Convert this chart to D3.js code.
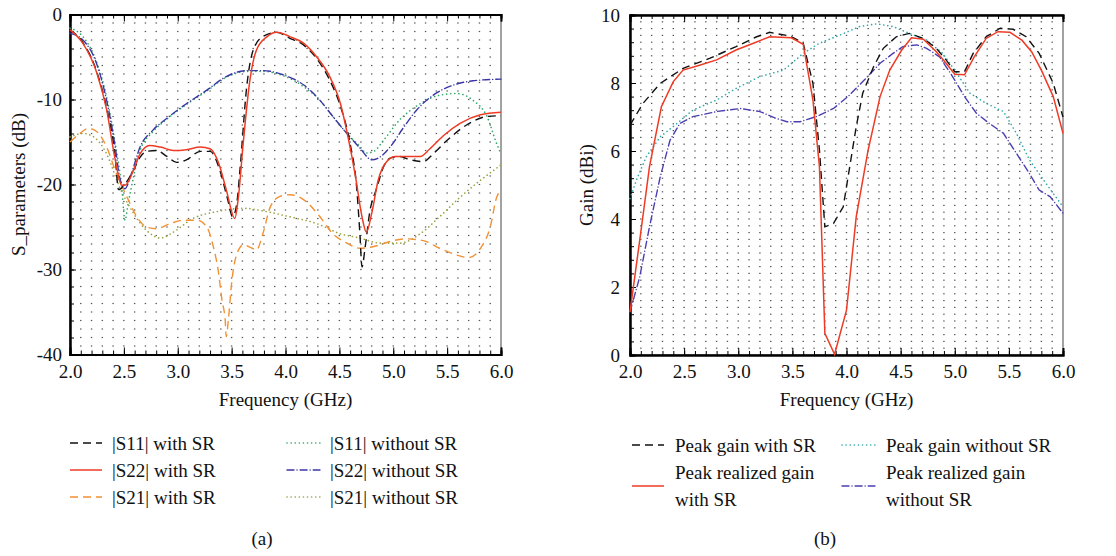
<!DOCTYPE html>
<meta charset="utf-8">
<style>
body { margin: 0; background: #fff; }
svg text { font-family: "Liberation Serif", "DejaVu Serif", "Times New Roman", serif !important; font-size: 19px !important; fill: #111; }
.axis path, .axis line { stroke: #000; }
</style>
<body>
<svg id="chart" width="1116" height="556" style="font-family: 'Liberation Serif', 'DejaVu Serif', serif;"></svg>
<script src="https://d3js.org/d3.v7.min.js"></script>
<script>

// ---- data (a): S-parameters, dB vs GHz ----
var s11With_f = [2.0,2.12,2.25,2.34,2.42,2.45,2.52,2.59,2.65,2.71,2.80,2.90,2.99,3.08,3.21,3.30,3.39,3.46,3.51,3.55,3.58,3.64,3.70,3.79,3.92,4.04,4.17,4.29,4.41,4.51,4.60,4.66,4.69,4.71,4.74,4.78,4.85,4.91,4.97,5.06,5.16,5.28,5.37,5.50,5.68,5.87,6.0];
var s11With_v = [-1.8,-3.3,-6.8,-11.0,-16.8,-20.6,-19.8,-18.3,-16.8,-16.1,-16.0,-16.7,-17.4,-17.1,-16.1,-16.1,-18.3,-21.6,-23.8,-22.0,-17.9,-8.5,-4.2,-2.6,-2.1,-2.8,-3.6,-5.2,-7.7,-10.8,-15.2,-20.3,-25.7,-29.7,-27.3,-23.4,-20.3,-17.9,-16.9,-16.7,-17.1,-17.3,-16.4,-14.8,-13.0,-12.0,-11.9];

var s22With_f = [2.0,2.12,2.25,2.34,2.42,2.48,2.51,2.59,2.65,2.74,2.84,2.96,3.08,3.21,3.30,3.38,3.45,3.53,3.56,3.61,3.67,3.73,3.83,3.92,4.04,4.17,4.29,4.41,4.51,4.58,4.65,4.71,4.75,4.80,4.86,4.94,5.02,5.12,5.25,5.34,5.47,5.62,5.81,6.0];
var s22With_v = [-1.8,-3.4,-6.9,-11.2,-17.1,-20.1,-20.1,-18.3,-16.4,-15.4,-15.6,-16.0,-15.9,-15.6,-15.8,-17.5,-20.6,-24.0,-21.8,-14.8,-7.7,-4.2,-2.6,-2.1,-2.6,-3.4,-5.0,-7.3,-10.5,-14.4,-19.1,-23.8,-25.6,-23.4,-19.5,-17.3,-16.7,-16.7,-16.7,-15.8,-14.2,-12.8,-11.8,-11.5];

var s21With_f = [2.0,2.09,2.17,2.25,2.34,2.43,2.53,2.62,2.71,2.80,2.93,3.05,3.18,3.27,3.33,3.38,3.41,3.44,3.45,3.47,3.50,3.55,3.61,3.69,3.73,3.79,3.86,3.95,4.04,4.17,4.32,4.44,4.57,4.69,4.82,4.97,5.12,5.28,5.43,5.59,5.70,5.81,5.90,5.96,6.0];
var s21With_v = [-15.0,-14.0,-13.4,-13.8,-15.6,-18.7,-21.5,-23.8,-25.0,-25.2,-24.6,-24.2,-24.2,-25.0,-27.3,-30.5,-33.6,-35.9,-37.9,-35.9,-31.6,-28.1,-27.1,-27.5,-27.7,-25.8,-22.6,-21.4,-21.2,-21.8,-23.8,-25.8,-26.9,-27.5,-27.3,-26.7,-26.4,-26.6,-27.5,-28.3,-28.6,-27.5,-25.0,-21.5,-20.7];

var s11Without_f = [2.0,2.12,2.25,2.34,2.42,2.48,2.51,2.54,2.59,2.65,2.77,2.90,3.08,3.27,3.45,3.64,3.79,3.98,4.17,4.32,4.44,4.57,4.69,4.75,4.82,4.91,5.06,5.25,5.43,5.59,5.74,5.87,5.96,6.0];
var s11Without_v = [-1.6,-2.6,-5.7,-9.7,-15.2,-20.3,-24.2,-22.2,-19.1,-16.0,-13.8,-12.3,-10.6,-9.0,-7.4,-6.7,-6.7,-7.2,-8.5,-10.1,-12.0,-14.0,-15.5,-16.3,-16.1,-14.8,-12.4,-10.5,-9.5,-9.3,-10.1,-12.0,-15.2,-16.4];

var s22Without_f = [2.0,2.12,2.25,2.34,2.42,2.46,2.51,2.57,2.65,2.77,2.90,3.08,3.27,3.45,3.64,3.79,3.98,4.17,4.32,4.44,4.57,4.69,4.80,4.86,4.97,5.09,5.22,5.37,5.56,5.74,6.0];
var s22Without_v = [-2.2,-3.0,-5.9,-10.1,-15.6,-19.1,-20.5,-18.7,-15.6,-13.6,-12.2,-10.5,-8.9,-7.3,-6.6,-6.6,-7.1,-8.3,-10.1,-12.0,-14.0,-15.7,-17.1,-16.9,-15.6,-13.4,-11.2,-9.5,-8.3,-7.8,-7.6];

var s21Without_f = [2.0,2.12,2.22,2.34,2.46,2.59,2.71,2.84,2.96,3.14,3.36,3.61,3.83,4.04,4.29,4.51,4.69,4.88,5.06,5.25,5.43,5.62,5.81,6.0];
var s21Without_v = [-14.4,-14.0,-14.4,-16.4,-20.3,-23.4,-25.4,-26.3,-25.6,-24.0,-23.2,-22.8,-23.2,-23.8,-24.6,-25.8,-26.3,-26.9,-26.9,-25.8,-23.8,-21.5,-19.5,-17.7];

// ---- data (b): gain, dBi vs GHz ----
var gainWith_f = [2.0,2.12,2.28,2.49,2.74,2.98,3.17,3.29,3.48,3.60,3.69,3.75,3.80,3.88,3.97,4.03,4.09,4.15,4.25,4.34,4.46,4.58,4.71,4.83,4.92,5.0,5.09,5.17,5.29,5.42,5.54,5.66,5.78,5.91,6.0];
var gainWith_v = [6.76,7.4,7.99,8.43,8.73,9.07,9.36,9.49,9.38,9.17,7.99,6.03,3.77,3.87,4.36,5.54,6.72,7.7,8.48,9.02,9.36,9.46,9.31,9.02,8.68,8.33,8.33,8.87,9.36,9.61,9.58,9.36,8.87,7.99,7.0];

var realWith_f = [2.0,2.09,2.18,2.29,2.40,2.49,2.65,2.80,2.98,3.14,3.29,3.49,3.60,3.69,3.75,3.80,3.89,4.0,4.09,4.20,4.31,4.40,4.51,4.60,4.71,4.83,4.92,5.0,5.09,5.18,5.29,5.40,5.51,5.62,5.71,5.80,5.91,6.0];
var realWith_v = [1.27,3.38,5.54,7.3,8.04,8.38,8.53,8.68,8.97,9.17,9.36,9.33,9.14,7.5,5.54,0.64,0.02,1.32,4.07,6.03,7.6,8.38,8.97,9.33,9.29,8.92,8.58,8.26,8.24,8.77,9.31,9.51,9.49,9.26,8.92,8.38,7.6,6.52];

var gainWithout_f = [2.0,2.06,2.15,2.28,2.40,2.58,2.80,2.98,3.20,3.42,3.60,3.75,3.94,4.12,4.28,4.43,4.58,4.74,4.89,5.02,5.14,5.29,5.45,5.57,5.69,5.82,5.91,6.0];
var gainWithout_v = [4.6,5.15,5.83,6.42,6.72,7.2,7.5,7.84,8.19,8.38,8.87,9.17,9.41,9.66,9.74,9.66,9.46,9.26,8.87,8.28,7.7,7.4,7.16,6.52,5.74,5.15,4.75,4.36];

var realWithout_f = [2.0,2.09,2.18,2.28,2.37,2.46,2.58,2.80,3.02,3.20,3.35,3.45,3.57,3.72,3.88,4.03,4.18,4.31,4.43,4.52,4.65,4.74,4.86,4.98,5.09,5.20,5.32,5.45,5.57,5.69,5.78,5.88,6.0];
var realWithout_v = [1.27,2.3,3.77,5.25,6.32,6.81,7.01,7.16,7.25,7.16,6.96,6.86,6.86,7.01,7.25,7.65,8.14,8.58,8.87,9.07,9.12,9.02,8.77,8.19,7.6,7.11,6.81,6.52,5.93,5.34,4.85,4.66,4.17];

var freqTicks = [2.0,2.5,3.0,3.5,4.0,4.5,5.0,5.5,6.0];
var sTicks = [0,-10,-20,-30,-40];
var gainTicks = [0,2,4,6,8,10];

var FONT = "'Liberation Serif', 'DejaVu Serif', 'Times New Roman', serif";

var svg = d3.select("#chart");
svg.append("rect").attr("width", 1116).attr("height", 556).attr("fill", "#fff");

function zip(f, v) { return f.map(function(d, i) { return [d, v[i]]; }); }

function label(sel) { return sel.attr("font-family", FONT).attr("font-size", 19).attr("fill", "#111"); }

// draws one panel frame, grid dots and axes; returns the scales
function panel(o) {
  var x = d3.scaleLinear().domain([2, 6]).range([o.left, o.right]);
  var y = d3.scaleLinear().domain(o.ydom).range([o.bottom, o.top]);
  var g = svg.append("g");

  // dotted grid: one dot at each intersection
  var cols = d3.range(21, 60).map(function(d) { return d / 10; });
  var rows = d3.range(1, o.nrows).map(function(i) { return o.ydom[0] + i * o.ystep; });
  var pts = [];
  cols.forEach(function(c) { rows.forEach(function(r) { pts.push([c, r]); }); });
  g.selectAll("rect.dot").data(pts).enter().append("rect")
    .attr("x", function(d) { return x(d[0]) - 0.7; })
    .attr("y", function(d) { return y(d[1]) - 0.6; })
    .attr("width", 1.4).attr("height", 1.2)
    .attr("fill", "#555");

  // frame
  g.append("rect").attr("x", o.left).attr("y", o.top)
    .attr("width", o.right - o.left).attr("height", o.bottom - o.top)
    .attr("fill", "none").attr("stroke", "#444").attr("stroke-width", 1);

  var minorX = d3.range(20, 61).map(function(d) { return d / 10; });
  g.append("g").attr("class", "axis").attr("transform", "translate(0," + o.bottom + ")")
    .call(d3.axisBottom(x).tickValues(minorX).tickSize(-4).tickFormat(""));
  g.append("g").attr("class", "axis").attr("transform", "translate(0," + o.bottom + ")")
    .call(d3.axisBottom(x).tickValues(freqTicks).tickSize(-7).tickPadding(10).tickFormat(d3.format(".1f")));
  g.append("g").attr("class", "axis").attr("transform", "translate(0," + o.top + ")")
    .call(d3.axisTop(x).tickValues(minorX).tickSize(-4).tickFormat(""));
  g.append("g").attr("class", "axis").attr("transform", "translate(0," + o.top + ")")
    .call(d3.axisTop(x).tickValues(freqTicks).tickSize(-7).tickFormat(""));

  var minorY = d3.range(0, o.nminor + 1).map(function(i) { return o.ydom[0] + i * o.minorStep; });
  g.append("g").attr("class", "axis").attr("transform", "translate(" + o.left + ",0)")
    .call(d3.axisLeft(y).tickValues(minorY).tickSize(-4).tickFormat(""));
  g.append("g").attr("class", "axis").attr("transform", "translate(" + o.left + ",0)")
    .call(d3.axisLeft(y).tickValues(o.yticks).tickSize(-6).tickPadding(o.ypad).tickFormat(function(d) { return String(d); }));

  g.selectAll(".axis").attr("font-family", FONT).attr("font-size", 19);
  g.selectAll(".axis .domain").attr("stroke-width", 2);
  g.selectAll(".axis text").attr("fill", "#111");

  label(g.append("text")).attr("x", (o.left + o.right) / 2).attr("y", 406)
    .attr("text-anchor", "middle").text("Frequency (GHz)");
  label(g.append("text")).attr("transform", "translate(" + o.ytx + "," + (o.top + o.bottom) / 2 + ") rotate(-90)")
    .attr("text-anchor", "middle").attr("dy", "0.35em").text(o.ytitle);
  return {x: x, y: y};
}

function drawLine(sc, pts, st, curve) {
  svg.append("path").datum(pts)
    .attr("fill", "none").attr("stroke", st.color).attr("stroke-width", st.w || 1.3)
    .attr("stroke-dasharray", st.dash || null)
    .attr("stroke-linecap", st.cap || "butt")
    .attr("d", d3.line().curve(curve)
      .x(function(d) { return sc.x(d[0]); })
      .y(function(d) { return sc.y(d[1]); }));
}

function legendItem(x1, x2, y, st, lines, tx) {
  svg.append("line").attr("x1", x1).attr("x2", x2).attr("y1", y).attr("y2", y)
    .attr("stroke", st.color).attr("stroke-width", st.w || 1.3)
    .attr("stroke-dasharray", st.dash || null).attr("stroke-linecap", st.cap || "butt");
  lines.forEach(function(l) {
    label(svg.append("text")).attr("x", tx).attr("y", l[1]).attr("dy", "0.35em").text(l[0]);
  });
}

var stBlack = {color: "#111", dash: "8,5", w: 1.4};
var stRed = {color: "#ee3b24", w: 1.5};
var stOrange = {color: "#f39033", dash: "8,5", w: 1.4};
var stGreen = {color: "#2ea866", dash: "0.1,4", w: 1.6, cap: "round"};
var stBlue = {color: "#3b36a6", dash: "7,3,0.1,3", w: 1.4, cap: "round"};
var stOlive = {color: "#9aa23e", dash: "0.1,4", w: 1.6, cap: "round"};
var stTeal = {color: "#2fa8a8", dash: "0.1,4", w: 1.6, cap: "round"};
var stBlue2 = {color: "#4a3fb0", dash: "7,3,0.1,3", w: 1.4, cap: "round"};

// ---- panel (a) ----
var A = panel({left: 70, right: 501, top: 14.5, bottom: 354.5, ydom: [-40, 0], ystep: 1, nrows: 40,
  minorStep: 2, nminor: 20, yticks: sTicks, ypad: 8, ytx: 18, ytitle: "S_parameters (dB)"});

var curveA = d3.curveMonotoneX;
drawLine(A, zip(s21Without_f, s21Without_v), stOlive, curveA);
drawLine(A, zip(s11Without_f, s11Without_v), stGreen, curveA);
drawLine(A, zip(s22Without_f, s22Without_v), stBlue, curveA);
drawLine(A, zip(s21With_f, s21With_v), stOrange, curveA);
drawLine(A, zip(s11With_f, s11With_v), stBlack, curveA);
drawLine(A, zip(s22With_f, s22With_v), stRed, curveA);

legendItem(70, 102, 443, stBlack, [["|S11| with SR", 443]], 112);
legendItem(70, 102, 470, stRed, [["|S22| with SR", 470]], 112);
legendItem(70, 102, 497, stOrange, [["|S21| with SR", 497]], 112);
legendItem(287, 320, 443, stGreen, [["|S11| without SR", 443]], 330);
legendItem(287, 320, 470, stBlue, [["|S22| without SR", 470]], 330);
legendItem(287, 320, 497, stOlive, [["|S21| without SR", 497]], 330);
label(svg.append("text")).attr("x", 262).attr("y", 538).attr("dy", "0.35em").attr("text-anchor", "middle").text("(a)");

// ---- panel (b) ----
var B = panel({left: 630, right: 1063, top: 15, bottom: 355, ydom: [0, 10], ystep: 0.2, nrows: 50,
  minorStep: 0.4, nminor: 25, yticks: gainTicks, ypad: 10, ytx: 586, ytitle: "Gain (dBi)"});

var curveB = d3.curveLinear;
drawLine(B, zip(gainWithout_f, gainWithout_v), stTeal, curveB);
drawLine(B, zip(realWithout_f, realWithout_v), stBlue2, curveB);
drawLine(B, zip(gainWith_f, gainWith_v), stBlack, curveB);
drawLine(B, zip(realWith_f, realWith_v), stRed, curveB);

legendItem(632, 664, 445, stBlack, [["Peak gain with SR", 445]], 675);
legendItem(632, 664, 486, stRed, [["Peak realized gain", 472], ["with SR", 499]], 675);
legendItem(842, 875, 445, stTeal, [["Peak gain without SR", 445]], 886);
legendItem(842, 875, 486, stBlue2, [["Peak realized gain", 472], ["without SR", 499]], 886);
label(svg.append("text")).attr("x", 825).attr("y", 538).attr("dy", "0.35em").attr("text-anchor", "middle").text("(b)");

</script>
</body>
